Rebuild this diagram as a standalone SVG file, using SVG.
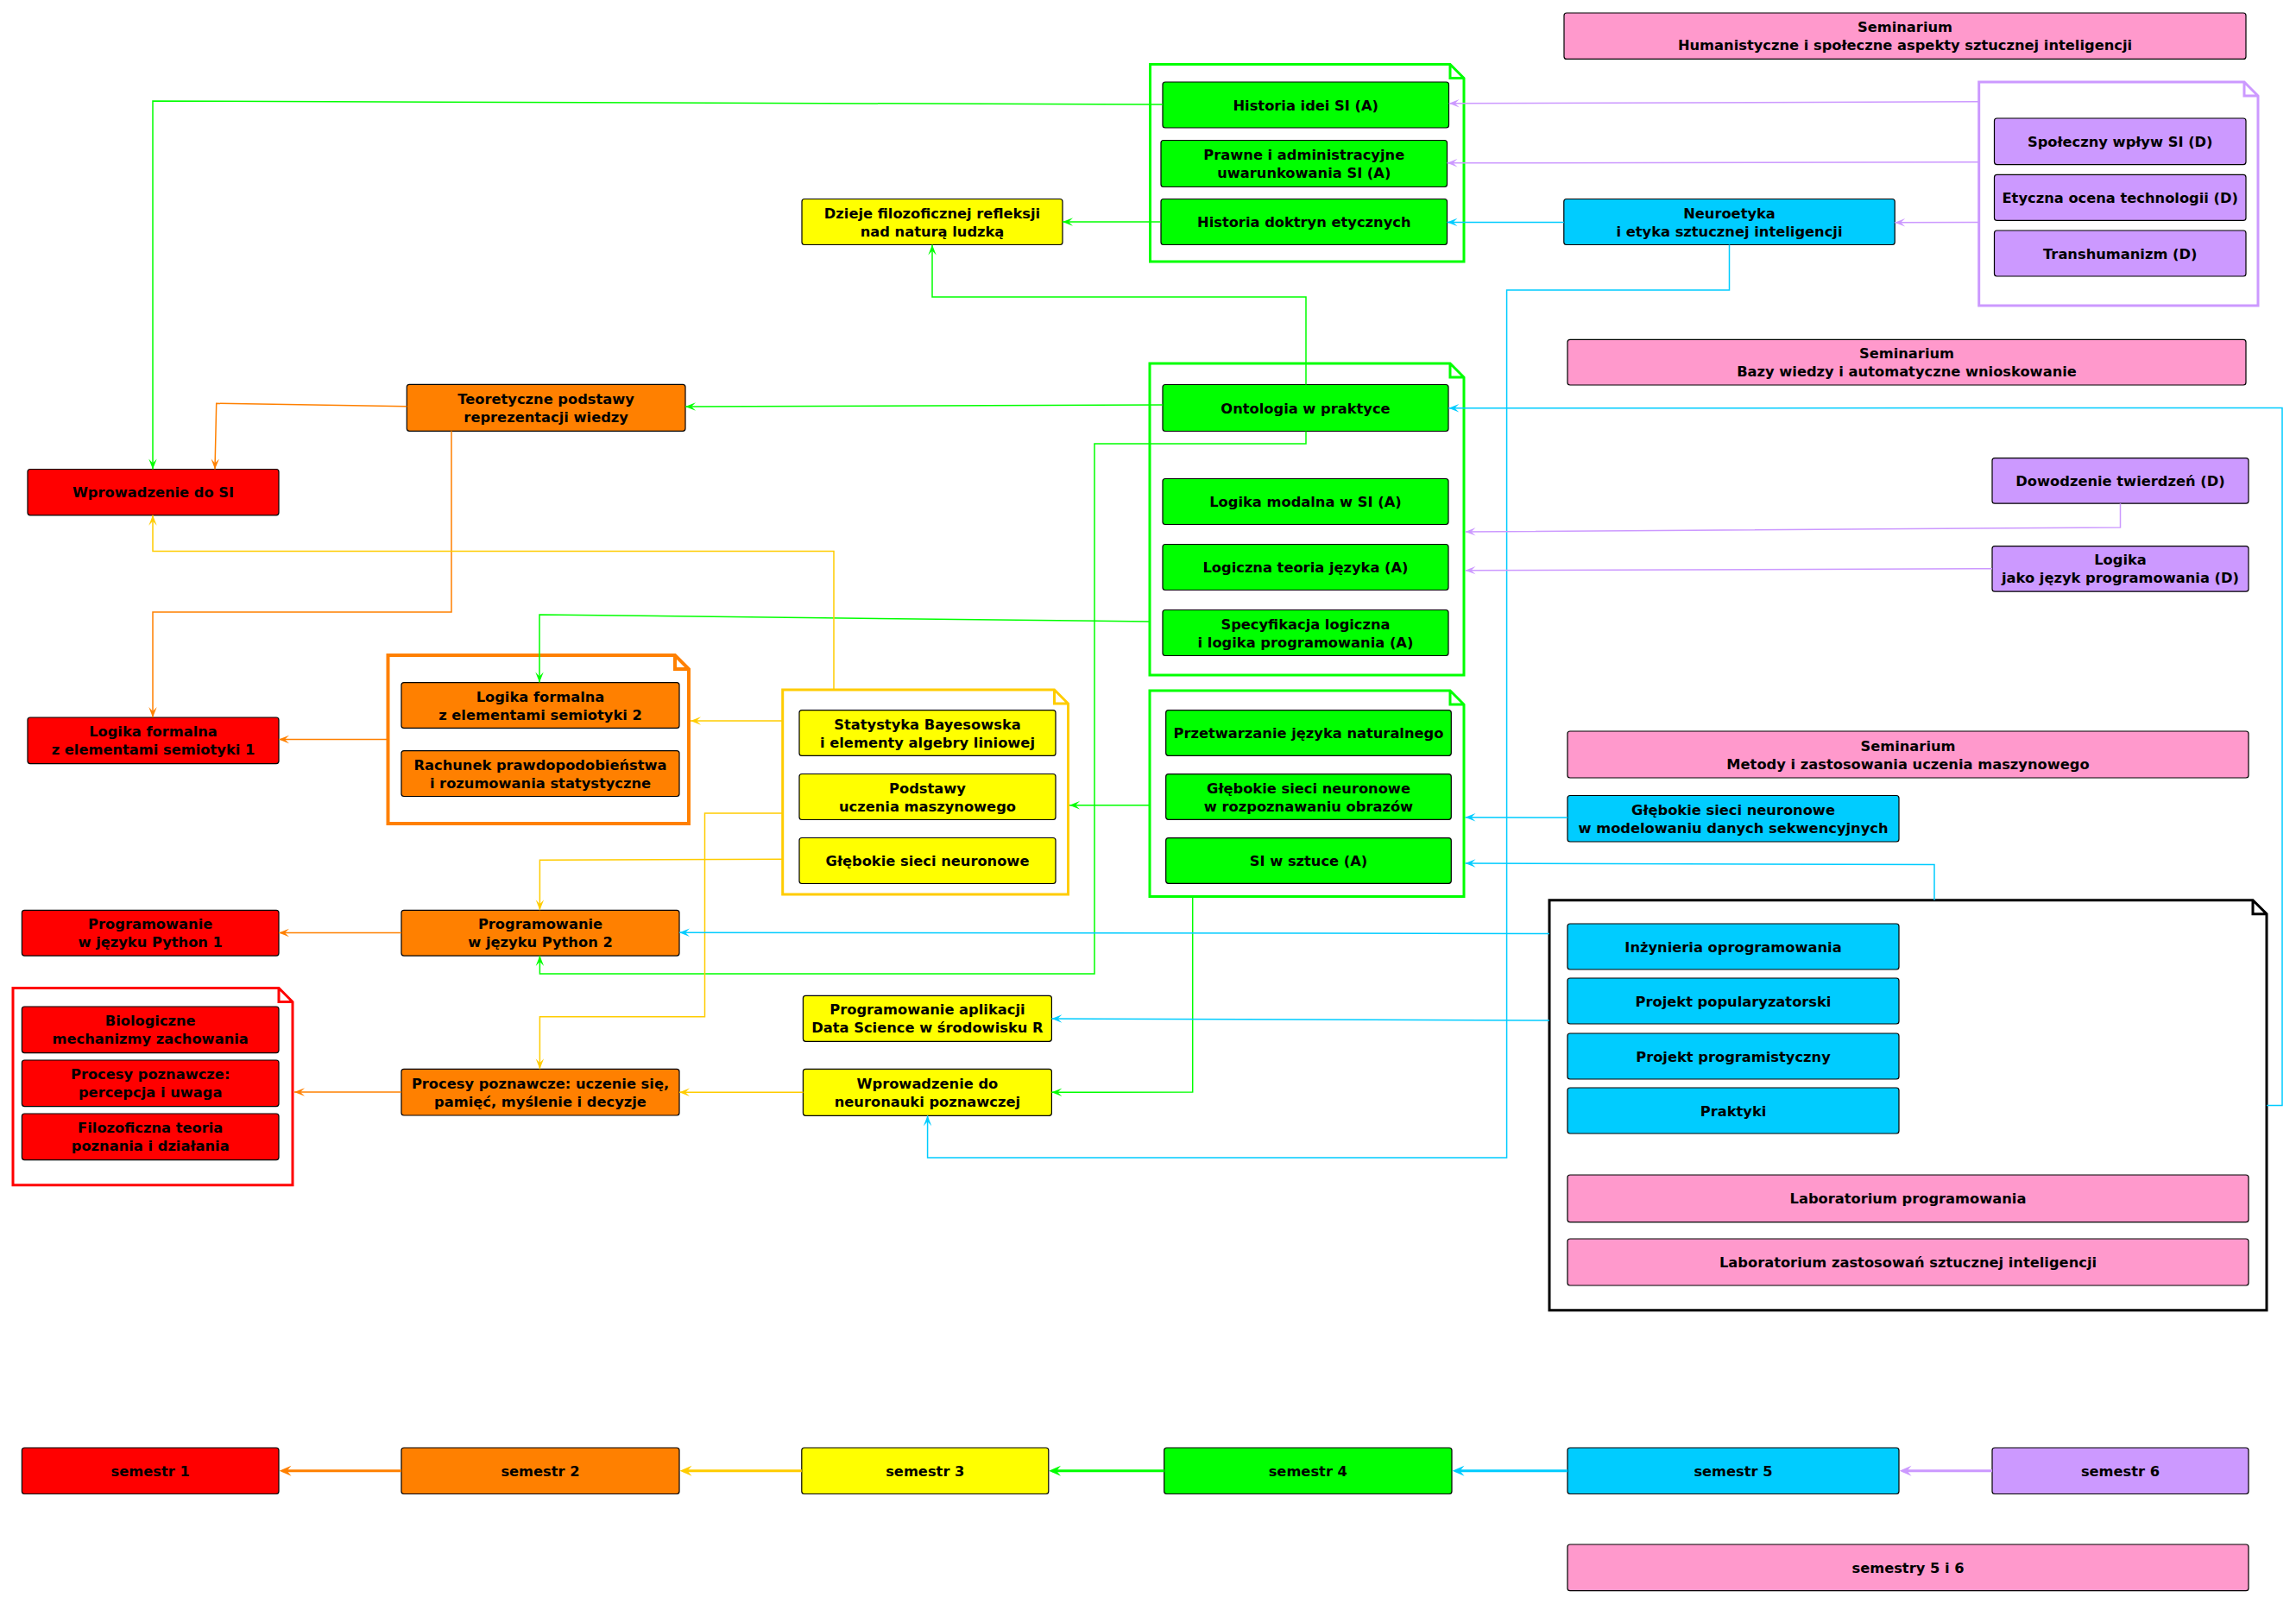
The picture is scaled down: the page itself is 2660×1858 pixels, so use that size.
<svg xmlns="http://www.w3.org/2000/svg" width="2660" height="1858" viewBox="0 0 2660 1858">
<style>
.n{stroke:#000;stroke-width:1.2}
.G{fill:#00FF00}.Y{fill:#FFFF00}.O{fill:#FF8000}.R{fill:#FF0000}.C{fill:#00CCFF}.P{fill:#CC99FF}.K{fill:#FF99CC}
text{font-family:"DejaVu Sans","Liberation Sans",sans-serif;font-weight:bold;font-size:16.3px;fill:#000;text-anchor:middle}
.f{fill:none;stroke-width:3}
.c{fill:none;stroke-width:1.5}
.t{fill:none;stroke-width:3.2}
.sg{stroke:#00FF00}.so{stroke:#FF8000}.sy{stroke:#FFCC00}.sc{stroke:#00CCFF}.sp{stroke:#CC99FF}.sr{stroke:#FF0000}.sk{stroke:#000}
</style>
<defs>
<marker id="mg" viewBox="-13 -6 14 12" refX="0" refY="0" markerWidth="14" markerHeight="12" markerUnits="userSpaceOnUse" orient="auto"><path d="M0,0 L-12,-4.7 L-7,0 L-12,4.7 Z" fill="#00FF00"/></marker>
<marker id="mo" viewBox="-13 -6 14 12" refX="0" refY="0" markerWidth="14" markerHeight="12" markerUnits="userSpaceOnUse" orient="auto"><path d="M0,0 L-12,-4.7 L-7,0 L-12,4.7 Z" fill="#FF8000"/></marker>
<marker id="my" viewBox="-13 -6 14 12" refX="0" refY="0" markerWidth="14" markerHeight="12" markerUnits="userSpaceOnUse" orient="auto"><path d="M0,0 L-12,-4.7 L-7,0 L-12,4.7 Z" fill="#FFCC00"/></marker>
<marker id="mc" viewBox="-13 -6 14 12" refX="0" refY="0" markerWidth="14" markerHeight="12" markerUnits="userSpaceOnUse" orient="auto"><path d="M0,0 L-12,-4.7 L-7,0 L-12,4.7 Z" fill="#00CCFF"/></marker>
<marker id="mp" viewBox="-13 -6 14 12" refX="0" refY="0" markerWidth="14" markerHeight="12" markerUnits="userSpaceOnUse" orient="auto"><path d="M0,0 L-12,-4.7 L-7,0 L-12,4.7 Z" fill="#CC99FF"/></marker>
<marker id="tg" viewBox="-11 -7 16 14" refX="0" refY="0" markerWidth="16" markerHeight="14" markerUnits="userSpaceOnUse" orient="auto"><path d="M4,0 L-10,-6 L-5,0 L-10,6 Z" fill="#00FF00"/></marker>
<marker id="to" viewBox="-11 -7 16 14" refX="0" refY="0" markerWidth="16" markerHeight="14" markerUnits="userSpaceOnUse" orient="auto"><path d="M4,0 L-10,-6 L-5,0 L-10,6 Z" fill="#FF8000"/></marker>
<marker id="ty" viewBox="-11 -7 16 14" refX="0" refY="0" markerWidth="16" markerHeight="14" markerUnits="userSpaceOnUse" orient="auto"><path d="M4,0 L-10,-6 L-5,0 L-10,6 Z" fill="#FFCC00"/></marker>
<marker id="tc" viewBox="-11 -7 16 14" refX="0" refY="0" markerWidth="16" markerHeight="14" markerUnits="userSpaceOnUse" orient="auto"><path d="M4,0 L-10,-6 L-5,0 L-10,6 Z" fill="#00CCFF"/></marker>
<marker id="tp" viewBox="-11 -7 16 14" refX="0" refY="0" markerWidth="16" markerHeight="14" markerUnits="userSpaceOnUse" orient="auto"><path d="M4,0 L-10,-6 L-5,0 L-10,6 Z" fill="#CC99FF"/></marker>
</defs>
<rect width="2660" height="1858" fill="#fff"/>

<g id="frames">
<g id="frame-green-1"><path class="f sg" d="M1332.5,74.5 H1680 L1696,90.5 V303 H1332.5 Z M1680,74.5 V90.5 H1696"/></g>
<g id="frame-green-2"><path class="f sg" d="M1332,421 H1680 L1696,437 V782 H1332 Z M1680,421 V437 H1696"/></g>
<g id="frame-green-3"><path class="f sg" d="M1332,800 H1680 L1696,816 V1038.5 H1332 Z M1680,800 V816 H1696"/></g>
<g id="frame-purple"><path class="f sp" d="M2292.7,95 H2600 L2616,111 V354 H2292.7 Z M2600,95 V111 H2616"/></g>
<g id="frame-orange"><path class="f so" style="stroke-width:4" d="M449.5,759 H782 L798,775 V954 H449.5 Z M782,759 V775 H798"/></g>
<g id="frame-yellow"><path class="f sy" d="M906.7,799 H1221.5 L1237.5,815 V1036 H906.7 Z M1221.5,799 V815 H1237.5"/></g>
<g id="frame-red"><path class="f sr" d="M15,1144.5 H323 L339,1160.5 V1372.7 H15 Z M323,1144.5 V1160.5 H339"/></g>
<g id="frame-black"><path class="f sk" d="M1795,1042.7 H2610 L2626,1058.7 V1517.8 H1795 Z M2610,1042.7 V1058.7 H2626"/></g>
</g>

<g id="n-historia-idei"><rect class="n G" x="1347" y="95" width="331.5" height="53" rx="3"/><text x="1512.75" y="127.5">Historia idei SI (A)</text></g>
<g id="n-prawne"><rect class="n G" x="1345" y="162.5" width="331.5" height="54" rx="3"/><text x="1510.75" y="185">Prawne i administracyjne</text><text x="1510.75" y="206">uwarunkowania SI (A)</text></g>
<g id="n-historia-doktryn"><rect class="n G" x="1345" y="230.5" width="331.5" height="53" rx="3"/><text x="1510.75" y="263">Historia doktryn etycznych</text></g>
<g id="n-ontologia"><rect class="n G" x="1347" y="445.5" width="331" height="54" rx="3"/><text x="1512.5" y="478.5">Ontologia w praktyce</text></g>
<g id="n-logika-modalna"><rect class="n G" x="1347" y="554.5" width="331" height="53" rx="3"/><text x="1512.5" y="587">Logika modalna w SI (A)</text></g>
<g id="n-logiczna-teoria"><rect class="n G" x="1347" y="630.5" width="331" height="53" rx="3"/><text x="1512.5" y="663">Logiczna teoria języka (A)</text></g>
<g id="n-specyfikacja"><rect class="n G" x="1347" y="706.5" width="331" height="53" rx="3"/><text x="1512.5" y="728.5">Specyfikacja logiczna</text><text x="1512.5" y="749.5">i logika programowania (A)</text></g>
<g id="n-przetwarzanie"><rect class="n G" x="1350.7" y="822.7" width="330.6" height="52.6" rx="3"/><text x="1516" y="855">Przetwarzanie języka naturalnego</text></g>
<g id="n-glebokie-obrazy"><rect class="n G" x="1350.7" y="896.7" width="330.6" height="52.6" rx="3"/><text x="1516" y="918.5">Głębokie sieci neuronowe</text><text x="1516" y="939.5">w rozpoznawaniu obrazów</text></g>
<g id="n-si-w-sztuce"><rect class="n G" x="1350.7" y="970.7" width="330.6" height="52.6" rx="3"/><text x="1516" y="1003">SI w sztuce (A)</text></g>
<g id="n-semestr4"><rect class="n G" x="1348.7" y="1677" width="333.3" height="53.5" rx="3"/><text x="1515.3" y="1709.75">semestr 4</text></g>

<g id="n-dzieje"><rect class="n Y" x="929" y="230.5" width="302" height="53" rx="3"/><text x="1080" y="252.5">Dzieje filozoficznej refleksji</text><text x="1080" y="273.5">nad naturą ludzką</text></g>
<g id="n-statystyka"><rect class="n Y" x="926" y="822.6" width="297" height="52.8" rx="3"/><text x="1074.5" y="844.5">Statystyka Bayesowska</text><text x="1074.5" y="865.5">i elementy algebry liniowej</text></g>
<g id="n-podstawy-um"><rect class="n Y" x="926" y="896.5" width="297" height="53" rx="3"/><text x="1074.5" y="918.5">Podstawy</text><text x="1074.5" y="939.5">uczenia maszynowego</text></g>
<g id="n-glebokie-sieci"><rect class="n Y" x="926" y="970.5" width="297" height="53" rx="3"/><text x="1074.5" y="1003">Głębokie sieci neuronowe</text></g>
<g id="n-prog-aplikacji"><rect class="n Y" x="930.4" y="1153.3" width="288" height="53" rx="3"/><text x="1074.4" y="1175.3">Programowanie aplikacji</text><text x="1074.4" y="1196.3">Data Science w środowisku R</text></g>
<g id="n-neuronauka"><rect class="n Y" x="930.4" y="1238.3" width="288" height="54" rx="3"/><text x="1074.4" y="1260.8">Wprowadzenie do</text><text x="1074.4" y="1281.8">neuronauki poznawczej</text></g>
<g id="n-semestr3"><rect class="n Y" x="928.8" y="1677" width="286" height="53.5" rx="3"/><text x="1071.8" y="1709.75">semestr 3</text></g>

<g id="n-teoretyczne"><rect class="n O" x="471.3" y="445.3" width="322.7" height="54" rx="3"/><text x="632.65" y="467.8">Teoretyczne podstawy</text><text x="632.65" y="488.8">reprezentacji wiedzy</text></g>
<g id="n-logika-formalna-2"><rect class="n O" x="465" y="790.6" width="322" height="52.8" rx="3"/><text x="626" y="812.5">Logika formalna</text><text x="626" y="833.5">z elementami semiotyki 2</text></g>
<g id="n-rachunek"><rect class="n O" x="465" y="869.6" width="322" height="52.9" rx="3"/><text x="626" y="891.5">Rachunek prawdopodobieństwa</text><text x="626" y="912.5">i rozumowania statystyczne</text></g>
<g id="n-python2"><rect class="n O" x="465" y="1054.3" width="322" height="52.8" rx="3"/><text x="626" y="1076.2">Programowanie</text><text x="626" y="1097.2">w języku Python 2</text></g>
<g id="n-procesy-uczenie"><rect class="n O" x="465" y="1238.3" width="322" height="53.7" rx="3"/><text x="626" y="1260.65">Procesy poznawcze: uczenie się,</text><text x="626" y="1281.65">pamięć, myślenie i decyzje</text></g>
<g id="n-semestr2"><rect class="n O" x="465" y="1677" width="322" height="53.5" rx="3"/><text x="626" y="1709.75">semestr 2</text></g>

<g id="n-wprowadzenie-si"><rect class="n R" x="32" y="543.5" width="291" height="53.3" rx="3"/><text x="177.5" y="576.15">Wprowadzenie do SI</text></g>
<g id="n-logika-formalna-1"><rect class="n R" x="32" y="831" width="291" height="53.6" rx="3"/><text x="177.5" y="853.3">Logika formalna</text><text x="177.5" y="874.3">z elementami semiotyki 1</text></g>
<g id="n-python1"><rect class="n R" x="25.4" y="1054.3" width="297.6" height="52.8" rx="3"/><text x="174.2" y="1076.2">Programowanie</text><text x="174.2" y="1097.2">w języku Python 1</text></g>
<g id="n-biologiczne"><rect class="n R" x="25.4" y="1166" width="297.6" height="53.6" rx="3"/><text x="174.2" y="1188.3">Biologiczne</text><text x="174.2" y="1209.3">mechanizmy zachowania</text></g>
<g id="n-procesy-percepcja"><rect class="n R" x="25.4" y="1228" width="297.6" height="53.6" rx="3"/><text x="174.2" y="1250.3">Procesy poznawcze:</text><text x="174.2" y="1271.3">percepcja i uwaga</text></g>
<g id="n-filozoficzna"><rect class="n R" x="25.4" y="1290" width="297.6" height="53.6" rx="3"/><text x="174.2" y="1312.3">Filozoficzna teoria</text><text x="174.2" y="1333.3">poznania i działania</text></g>
<g id="n-semestr1"><rect class="n R" x="25.4" y="1677" width="297.6" height="53.5" rx="3"/><text x="174.2" y="1709.75">semestr 1</text></g>

<g id="n-neuroetyka"><rect class="n C" x="1811.8" y="230.5" width="383.4" height="53" rx="3"/><text x="2003.5" y="252.5">Neuroetyka</text><text x="2003.5" y="273.5">i etyka sztucznej inteligencji</text></g>
<g id="n-glebokie-sekw"><rect class="n C" x="1816" y="921.5" width="384" height="53.5" rx="3"/><text x="2008" y="943.75">Głębokie sieci neuronowe</text><text x="2008" y="964.75">w modelowaniu danych sekwencyjnych</text></g>
<g id="n-inzynieria"><rect class="n C" x="1816" y="1070" width="384" height="53" rx="3"/><text x="2008" y="1102.5">Inżynieria oprogramowania</text></g>
<g id="n-popularyzatorski"><rect class="n C" x="1816" y="1133" width="384" height="53" rx="3"/><text x="2008" y="1165.5">Projekt popularyzatorski</text></g>
<g id="n-programistyczny"><rect class="n C" x="1816" y="1197" width="384" height="53" rx="3"/><text x="2008" y="1229.5">Projekt programistyczny</text></g>
<g id="n-praktyki"><rect class="n C" x="1816" y="1260" width="384" height="53" rx="3"/><text x="2008" y="1292.5">Praktyki</text></g>
<g id="n-semestr5"><rect class="n C" x="1816" y="1677" width="384" height="53.5" rx="3"/><text x="2008" y="1709.75">semestr 5</text></g>

<g id="n-spoleczny"><rect class="n P" x="2310.5" y="137" width="291.5" height="53.6" rx="3"/><text x="2456.25" y="169.8">Społeczny wpływ SI (D)</text></g>
<g id="n-etyczna"><rect class="n P" x="2310.5" y="202.4" width="291.5" height="53" rx="3"/><text x="2456.25" y="234.9">Etyczna ocena technologii (D)</text></g>
<g id="n-transhumanizm"><rect class="n P" x="2310.5" y="267" width="291.5" height="53" rx="3"/><text x="2456.25" y="299.5">Transhumanizm (D)</text></g>
<g id="n-dowodzenie"><rect class="n P" x="2308" y="530.6" width="297" height="52.6" rx="3"/><text x="2456.5" y="562.9">Dowodzenie twierdzeń (D)</text></g>
<g id="n-logika-jezyk"><rect class="n P" x="2308" y="632.6" width="297" height="52.6" rx="3"/><text x="2456.5" y="654.4">Logika</text><text x="2456.5" y="675.4">jako język programowania (D)</text></g>
<g id="n-semestr6"><rect class="n P" x="2308" y="1677" width="297" height="53.5" rx="3"/><text x="2456.5" y="1709.75">semestr 6</text></g>

<g id="n-sem-humanistyczne"><rect class="n K" x="1812" y="15" width="790" height="53.4" rx="3"/><text x="2207" y="37.2">Seminarium</text><text x="2207" y="58.2">Humanistyczne i społeczne aspekty sztucznej inteligencji</text></g>
<g id="n-sem-bazy"><rect class="n K" x="1816" y="393.4" width="786" height="52.6" rx="3"/><text x="2209" y="415.2">Seminarium</text><text x="2209" y="436.2">Bazy wiedzy i automatyczne wnioskowanie</text></g>
<g id="n-sem-metody"><rect class="n K" x="1816" y="847" width="789" height="54" rx="3"/><text x="2210.5" y="869.5">Seminarium</text><text x="2210.5" y="890.5">Metody i zastosowania uczenia maszynowego</text></g>
<g id="n-lab-prog"><rect class="n K" x="1816" y="1361" width="789" height="54.7" rx="3"/><text x="2210.5" y="1394.35">Laboratorium programowania</text></g>
<g id="n-lab-zast"><rect class="n K" x="1816" y="1435" width="789" height="54" rx="3"/><text x="2210.5" y="1468">Laboratorium zastosowań sztucznej inteligencji</text></g>
<g id="n-semestry56"><rect class="n K" x="1816" y="1789" width="789" height="53.7" rx="3"/><text x="2210.5" y="1821.85">semestry 5 i 6</text></g>

<g id="connectors">
<path class="c sg" marker-end="url(#mg)" d="M1347,121 L177,117 L177,543.5"/>
<path class="c sg" marker-end="url(#mg)" d="M1345,257 L1231,257"/>
<path class="c sg" marker-end="url(#mg)" d="M1513,445.5 L1513,344 L1080,344 L1080,283.5"/>
<path class="c sg" marker-end="url(#mg)" d="M1347,469 L794,471"/>
<path class="c sg" marker-end="url(#mg)" d="M1513,499.5 L1513,514 L1268,514 L1268,1128 L625.4,1128 L625.4,1107.1"/>
<path class="c sg" marker-end="url(#mg)" d="M1332,720 L625,712 L625,790.6"/>
<path class="c sg" marker-end="url(#mg)" d="M1332,932.7 L1239,932.7"/>
<path class="c sg" marker-end="url(#mg)" d="M1381.7,1038.5 L1381.7,1265 L1218.4,1265.3"/>

<path class="c so" marker-end="url(#mo)" d="M471.3,470.7 L250.7,467.3 L249,543.5"/>
<path class="c so" marker-end="url(#mo)" d="M523,499.3 L523,709 L177,709 L177,831"/>
<path class="c so" marker-end="url(#mo)" d="M449.5,856.5 L323,856.5"/>
<path class="c so" marker-end="url(#mo)" d="M465,1080.5 L323,1080.5"/>
<path class="c so" marker-end="url(#mo)" d="M465,1265 L341,1265"/>

<path class="c sy" marker-end="url(#my)" d="M966,799 L966,638.4 L177,638.4 L177,596.8"/>
<path class="c sy" marker-end="url(#my)" d="M906.7,835 L800,835"/>
<path class="c sy" marker-end="url(#my)" d="M906.7,942 L816.5,942 L816.5,1177.7 L625.4,1177.7 L625.4,1238.3"/>
<path class="c sy" marker-end="url(#my)" d="M906.7,995.3 L625.4,996.3 L625.4,1054.3"/>
<path class="c sy" marker-end="url(#my)" d="M930.4,1265.3 L787,1265.3"/>

<path class="c sc" marker-end="url(#mc)" d="M1811.8,257.4 L1676.5,257.4"/>
<path class="c sc" marker-end="url(#mc)" d="M2003.5,283.5 L2003.5,336 L1745.6,336 L1745.6,1341 L1074.6,1341 L1074.6,1292.3"/>
<path class="c sc" marker-end="url(#mc)" d="M2626,1280.6 L2644,1280.6 L2644,472.5 L1678.3,472.7"/>
<path class="c sc" marker-end="url(#mc)" d="M1816,947 L1697.5,946.7"/>
<path class="c sc" marker-end="url(#mc)" d="M2241,1042.7 L2241,1001.5 L1697.5,1000"/>
<path class="c sc" marker-end="url(#mc)" d="M1795,1081.4 L787,1080.3"/>
<path class="c sc" marker-end="url(#mc)" d="M1795,1182 L1218.4,1180"/>

<path class="c sp" marker-end="url(#mp)" d="M2292.7,117.8 L1678.7,119.8"/>
<path class="c sp" marker-end="url(#mp)" d="M2292.7,187.8 L1676.5,188.8"/>
<path class="c sp" marker-end="url(#mp)" d="M2292.7,257.5 L2195.2,257.8"/>
<path class="c sp" marker-end="url(#mp)" d="M2456.5,583.2 L2456.5,611 L1697.5,616"/>
<path class="c sp" marker-end="url(#mp)" d="M2308,658.8 L1697.5,660.7"/>

<path class="t so" marker-end="url(#to)" d="M465,1703.75 L327.5,1703.75"/>
<path class="t sy" marker-end="url(#ty)" d="M928.8,1703.75 L791.5,1703.75"/>
<path class="t sg" marker-end="url(#tg)" d="M1348.7,1703.75 L1219,1703.75"/>
<path class="t sc" marker-end="url(#tc)" d="M1816,1703.75 L1686.5,1703.75"/>
<path class="t sp" marker-end="url(#tp)" d="M2308,1703.75 L2204.5,1703.75"/>
</g>
</svg>
